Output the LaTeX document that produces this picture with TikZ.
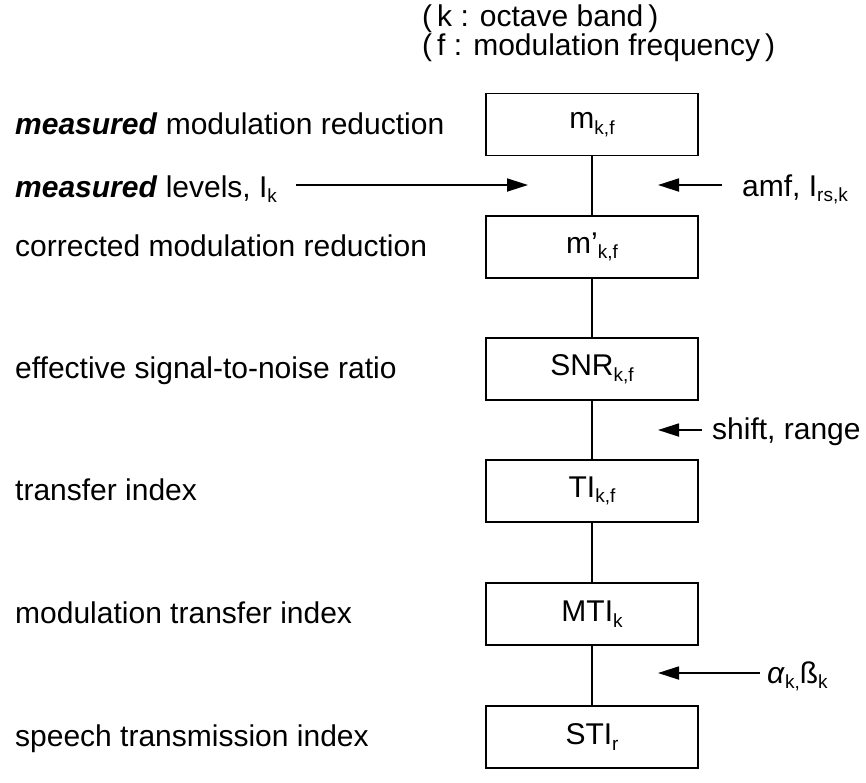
\documentclass[tikz,border=0pt]{standalone}
\usepackage{fontspec}
\setmainfont{Liberation Sans}
\usetikzlibrary{arrows.meta,positioning}

\newcommand{\lowidx}[1]{\raisebox{-0.35ex}{\fontsize{19}{19}\selectfont #1}}

\begin{document}
\begin{tikzpicture}[x=1pt,y=-1pt,
    feed/.style={line width=1.8pt,-{Triangle[length=21pt,width=13pt]}}]

    \useasboundingbox (0,0) rectangle (866,782);

    \begin{scope}[every node/.style={draw,line width=1.9pt,minimum width=212pt,minimum height=62pt,inner sep=0pt,font=\fontsize{30}{36}\selectfont}]
        \node (mkf) at (592,124.5) {m\lowidx{k,f}};
        \node (mcor) at (592,247) {m’\lowidx{k,f}};
        \node (snr) at (592,369) {SNR\lowidx{k,f}};
        \node (ti) at (592,491) {TI\lowidx{k,f}};
        \node (mti) at (592,614) {MTI\lowidx{k}};
        \node (sti) at (592,737) {STI\lowidx{r}};
    \end{scope}

    \begin{scope}[every node/.style={anchor=base west,inner sep=0pt,font=\fontsize{30}{36}\selectfont}]
        \node (kband) at (422,26) {(\,k : octave band\,)};
        \node (fmod) at (422,55) {(\,f : modulation frequency\,)};
        \node (lmeas) at (15,134) {\textbf{\textit{measured}} modulation reduction};
        \node (llev) at (15,197) {\textbf{\textit{measured}} levels, I\lowidx{k}};
        \node (lcor) at (15,256) {corrected modulation reduction};
        \node (lsnr) at (15,378) {effective signal-to-noise ratio};
        \node (lti) at (15,500) {transfer index};
        \node (lmti) at (15,623) {modulation transfer index};
        \node (lsti) at (15,746) {speech transmission index};
        \node (amf) at (742,196) {amf, I\lowidx{rs,k}};
        \node (shift) at (712,439) {shift, range};
        \node (alpha) at (767,683) {\textit{α}\lowidx{k,}ß\lowidx{k}};
    \end{scope}

    % chain of boxes
    \foreach \a/\b in {mkf/mcor,mcor/snr,snr/ti,ti/mti,mti/sti}
        \draw[line width=1.9pt] (\a.south) -- (\b.north);

    \coordinate (g1) at (592,185);
    \coordinate (g3) at (592,430);
    \coordinate (g5) at (592,673);

    % inputs
    \draw[feed] ([xshift=19pt]llev.east |- g1) -- ([xshift=-64pt]g1);
    \draw[feed] ([xshift=-20pt]amf.west |- g1) -- ([xshift=66pt]g1);
    \draw[feed] ([xshift=-10pt]shift.west |- g3) -- ([xshift=66pt]g3);
    \draw[feed] ([xshift=-7pt]alpha.west |- g5) -- ([xshift=66pt]g5);

\end{tikzpicture}
\end{document}
